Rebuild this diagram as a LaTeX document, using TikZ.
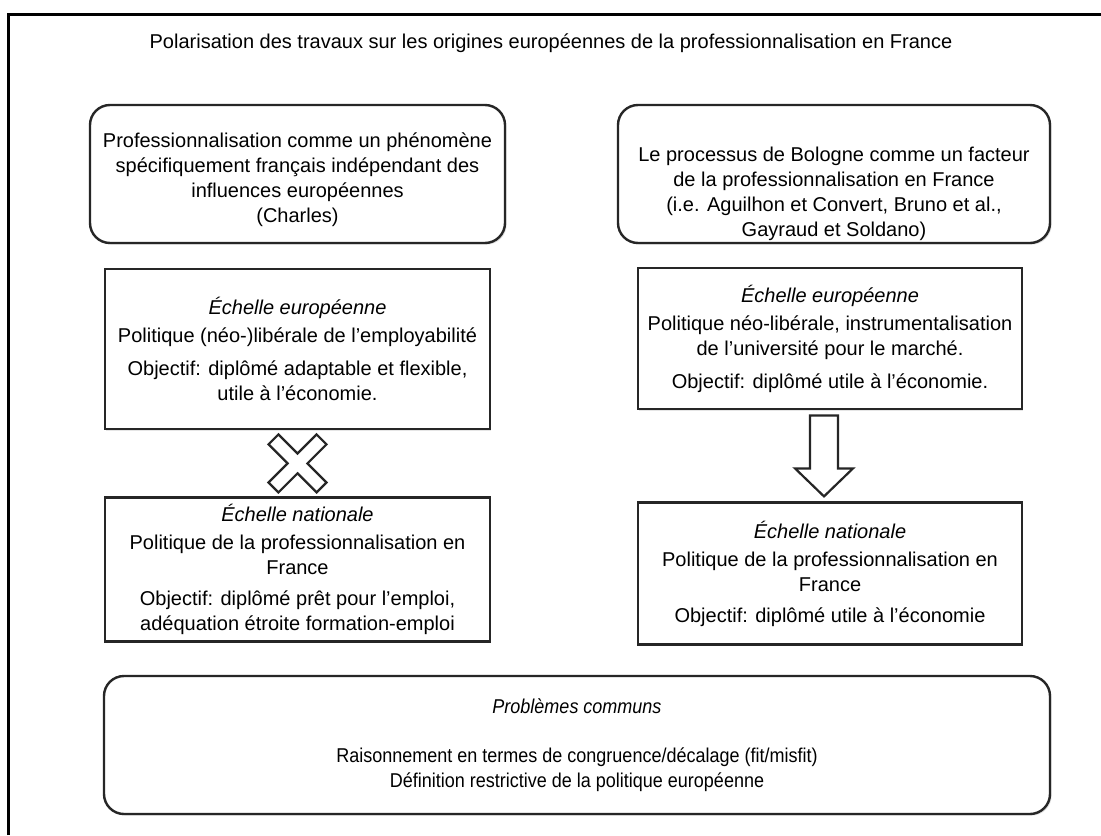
\documentclass[tikz,border=0pt]{standalone}
\usepackage{fontspec}
\setmainfont{Liberation Sans}
\newfontfamily\narrowsans{Liberation Sans}[FakeStretch=0.9]
\usepackage{tikz}
\usetikzlibrary{positioning, calc, shadows}
\tikzstyle{Origin} = [rectangle, rounded corners=10pt, draw=black!85, line width=1.2pt, fill=white, drop shadow={shadow xshift=0.8pt, shadow yshift=-0.8pt, opacity=0.25}, align=center, inner sep=0pt]
\tikzstyle{Scale} = [rectangle, draw=black!85, line width=1.1pt, fill=white, drop shadow={shadow xshift=0.6pt, shadow yshift=-0.6pt, opacity=0.2}, align=center, inner sep=0pt]
\tikzstyle{Block} = [draw=black!85, line width=1.1pt, fill=white, line join=miter]

\begin{document}
\begin{tikzpicture}[x=0.5pt, y=-0.5pt, font=\fontsize{10}{12.5}\selectfont]

    \useasboundingbox[fill=white] (0,0) rectangle (1101,835);
    \draw[line width=1.5pt] (8,835) -- (8,14) -- (1101,14);

    %%%%%%%%%%%%%%%%%%%%%%
    \node (title) at (551,43) {Polarisation des travaux sur les origines européennes de la professionnalisation en France};

    \node[Origin, minimum width=207.5pt, minimum height=69pt] (originFR) at (297.5,174) {\rule{0pt}{13.5pt}Professionnalisation comme un phénomène\\ spécifiquement français indépendant des\\ influences européennes\\ (Charles)};
    \node[Origin, minimum width=216pt, minimum height=69pt] (originBol) at (834,174) {\rule{0pt}{27pt}Le processus de Bologne comme un facteur\\ de la professionnalisation en France\\ (i.e. Aguilhon et Convert, Bruno et al.,\\ Gayraud et Soldano)};

    %%%%%%%%%%%%%%%%%%%%%%
    \node[Scale, minimum width=192.5pt, minimum height=80pt] (euroL) [below=12pt of originFR] {\textit{Échelle européenne}\\[1.5pt] Politique (néo-)libérale de l’employabilité\\[4pt] Objectif: diplômé adaptable et flexible,\\ utile à l’économie.};
    \node[Scale, minimum width=192.5pt, minimum height=72pt] (natL) [below=33pt of euroL] {\textit{Échelle nationale}\\[1.5pt] Politique de la professionnalisation en\\ France\\[3pt] Objectif: diplômé prêt pour l’emploi,\\ adéquation étroite formation-emploi};

    \node[Scale, minimum width=192pt, minimum height=70.5pt] (euroR) [below=11.5pt of originBol, xshift=-2pt] {\textit{Échelle européenne}\\[1.5pt] Politique néo-libérale, instrumentalisation\\ de l’université pour le marché.\\[4pt] Objectif: diplômé utile à l’économie.};
    \node[Scale, minimum width=192pt, minimum height=71pt] (natR) [below=45.5pt of euroR] {\textit{Échelle nationale}\\[1.5pt] Politique de la professionnalisation en\\ France\\[3pt] Objectif: diplômé utile à l’économie};

    % pas de lien (croix) / lien (fleche)
    \coordinate (xmid) at ($(euroL.south)!0.5!(natL.north)$);
    \draw[Block, shift={(xmid)}, rotate=45] (7,34) -- (7,7) -- (34,7) -- (34,-7) -- (7,-7) -- (7,-34) -- (-7,-34) -- (-7,-7) -- (-34,-7) -- (-34,7) -- (-7,7) -- (-7,34) -- cycle;

    \coordinate (atop) at ($(euroR.south)+(-6,5)$);
    \draw[Block, shift={(atop)}] (-14,0) -- (14,0) -- (14,53) -- (29,53) -- (0,81) -- (-29,53) -- (-14,53) -- cycle;

    %%%%%%%%%%%%%%%%%%%%%%
    \node[Origin, minimum width=473pt, minimum height=69pt, font=\narrowsans\fontsize{10}{12.5}\selectfont] (commun) at (577,745) {\textit{Problèmes communs}\\[12pt] Raisonnement en termes de congruence/décalage (fit/misfit)\\ Définition restrictive de la politique européenne};

\end{tikzpicture}
\end{document}
